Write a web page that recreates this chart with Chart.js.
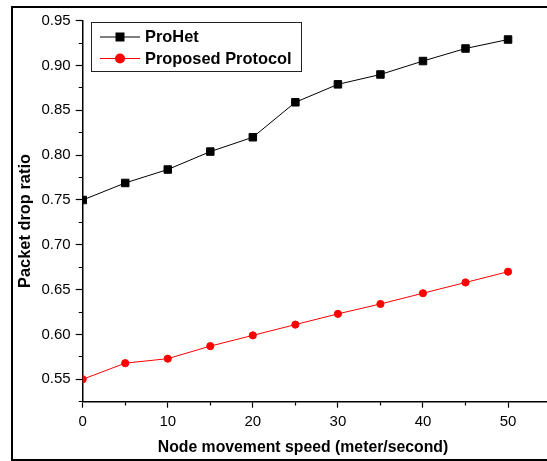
<!DOCTYPE html>
<html>
<head>
<meta charset="utf-8">
<script src="https://cdn.jsdelivr.net/npm/chart.js@4.4.1/dist/chart.umd.min.js"></script>
<style>
  html, body { margin: 0; padding: 0; background: #fff; }
  #wrap { position: relative; width: 547px; height: 461px; }
</style>
</head>
<body>
<div id="wrap"><canvas id="dropChart" width="547" height="461"></canvas></div>
<script>
// data
const speeds = [0, 5, 10, 15, 20, 25, 30, 35, 40, 45, 50];
const proHet = [0.750, 0.769, 0.784, 0.804, 0.820, 0.859, 0.879, 0.890, 0.905, 0.919, 0.929];
const proposed = [0.550, 0.568, 0.573, 0.587, 0.599, 0.611, 0.623, 0.634, 0.646, 0.658, 0.670];
const seriesNames = ['ProHet', 'Proposed Protocol'];
const xTitle = 'Node movement speed (meter/second)';
const yTitle = 'Packet drop ratio';
const yMajorStep = 0.05;
const xMajorStep = 10;

const FONT = '"Liberation Sans", Arial, Helvetica, sans-serif';

const isMajor = (v, step) => Math.abs(Math.round(v / step) * step - v) < 1e-6;

// frame, axis titles and the boxed legend
const decor = {
  id: 'decor',
  beforeDraw(chart) {
    const c = chart.ctx;
    c.save();
    c.strokeStyle = '#000';
    c.lineWidth = 2;
    c.strokeRect(12, 7, 600, 453);
    c.restore();
  },
  afterDraw(chart) {
    const c = chart.ctx;
    c.save();
    c.fillStyle = '#000';
    c.textAlign = 'center';
    c.textBaseline = 'middle';
    c.font = 'bold 15.8px ' + FONT;
    c.fillText(xTitle, 303, 448);

    c.font = 'bold 16.4px ' + FONT;
    c.translate(25, 221);
    c.rotate(-Math.PI / 2);
    c.fillText(yTitle, 0, 0);
    c.restore();

    // legend
    c.save();
    c.strokeStyle = '#222';
    c.lineWidth = 1;
    c.strokeRect(91.5, 22.5, 210, 49);
    c.font = 'bold 16.4px ' + FONT;
    c.textAlign = 'left';
    c.textBaseline = 'middle';
    const rows = [37, 58.5];
    chart.data.datasets.forEach((ds, i) => {
      const y = rows[i];
      c.strokeStyle = ds.borderColor;
      c.lineWidth = 1;
      c.beginPath();
      c.moveTo(100, y);
      c.lineTo(140, y);
      c.stroke();
      c.fillStyle = ds.pointBackgroundColor;
      if (ds.pointStyle === 'rect') {
        c.fillRect(115.5, y - 4.5, 9, 9);
      } else {
        c.beginPath();
        c.arc(120, y, 5, 0, Math.PI * 2);
        c.fill();
      }
      c.fillStyle = '#000';
      c.fillText(ds.label, 145, y + 0.5);
    });
    c.restore();
  }
};

new Chart(document.getElementById('dropChart'), {
  type: 'line',
  data: {
    datasets: [{
      label: seriesNames[0],
      data: speeds.map((s, i) => ({ x: s, y: proHet[i] })),
      borderColor: '#000',
      borderWidth: 1,
      pointStyle: 'rect',
      pointRadius: 5.3,
      pointBorderWidth: 1,
      pointBackgroundColor: '#000',
      pointBorderColor: '#000',
      tension: 0
    }, {
      label: seriesNames[1],
      data: speeds.map((s, i) => ({ x: s, y: proposed[i] })),
      borderColor: '#ff0000',
      borderWidth: 1,
      pointStyle: 'circle',
      pointRadius: 3.6,
      pointBorderWidth: 1,
      pointBackgroundColor: '#ff0000',
      pointBorderColor: '#ff0000',
      tension: 0
    }]
  },
  options: {
    responsive: false,
    animation: false,
    devicePixelRatio: 1,
    layout: { autoPadding: false, padding: { top: 20.7, left: 0, right: 0, bottom: 0 } },
    plugins: {
      legend: { display: false },
      tooltip: { enabled: false }
    },
    scales: {
      x: {
        type: 'linear',
        min: 0,
        max: 54.58,
        afterFit: s => { s.height = 59.3; s.paddingRight = 0; s.paddingLeft = 0; },
        border: { color: '#000', width: 1.5 },
        grid: {
          drawOnChartArea: false,
          tickLength: 6,
          tickWidth: 1.2,
          tickColor: '#000',
          tickBorderDash: c => (c.tick && !isMajor(c.tick.value, xMajorStep)) ? [3, 20] : []
        },
        ticks: {
          stepSize: 5,
          includeBounds: false,
          autoSkip: false,
          maxRotation: 0,
          padding: 5,
          color: '#000',
          font: { family: FONT, size: 15 },
          callback: v => isMajor(v, xMajorStep) ? String(Math.round(v)) : ''
        }
      },
      y: {
        min: 0.525,
        max: 0.95,
        afterFit: s => { s.width = 82.7; },
        border: { color: '#000', width: 1.5 },
        grid: {
          drawOnChartArea: false,
          tickLength: 7,
          tickWidth: 1.2,
          tickColor: '#000',
          tickBorderDash: c => (c.tick && !isMajor(c.tick.value, yMajorStep)) ? [0, 3, 4, 20] : []
        },
        ticks: {
          stepSize: 0.025,
          includeBounds: false,
          autoSkip: false,
          padding: 5,
          color: '#000',
          font: { family: FONT, size: 15 },
          callback: v => isMajor(v, yMajorStep) ? v.toFixed(2) : ''
        }
      }
    }
  },
  plugins: [decor]
});
</script>
</body>
</html>
